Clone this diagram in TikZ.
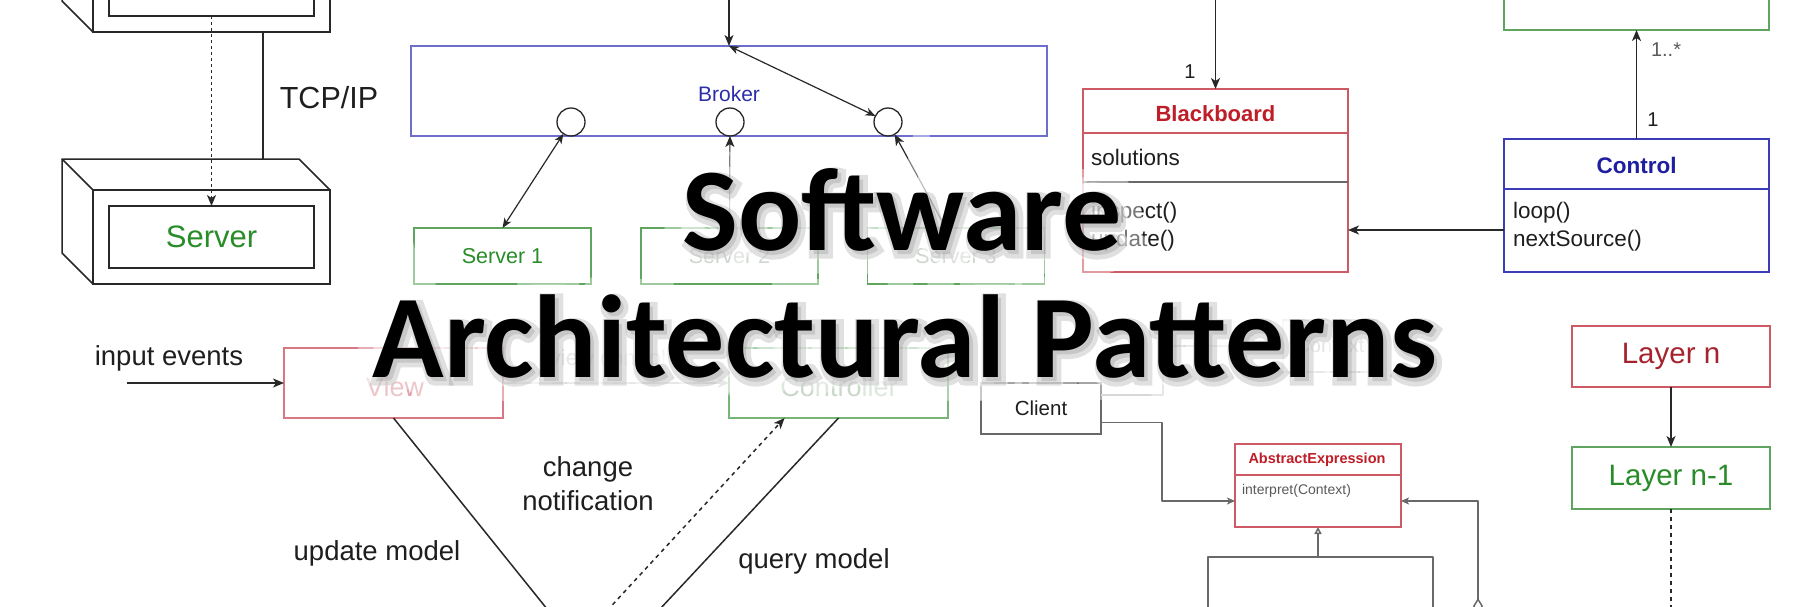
\documentclass[tikz,border=0pt]{standalone}
\usepackage{fontspec}
\setmainfont{Liberation Sans}
\newfontfamily\titlefont{Carlito}
\newfontfamily\glowfont{Carlito}[FakeBold=40]
\newfontfamily\rimfont{Carlito}[FakeBold=16]
\newfontfamily\shadefont{Carlito}[FakeBold=8]
\usetikzlibrary{arrows.meta,calc}

\tikzset{
  box/.style={draw=#1,line width=1.5pt,inner sep=0pt,outer sep=0pt},
  txt/.style={inner sep=0pt,outer sep=0pt,font=\fontsize{#1}{#1}\selectfont},
  wire/.style={draw=drawColor,line width=1.5pt,line join=round},
  tipped/.style={-{Stealth[length=11pt,width=9pt,inset=3pt]}},
  twotipped/.style={{Stealth[length=10pt,width=8pt,inset=3pt]}-{Stealth[length=10pt,width=8pt,inset=3pt]}},
  smalltipped/.style={-{Stealth[length=8pt,width=7pt,inset=2pt]}},
  headline/.style={anchor=base,inner sep=0pt,outer sep=0pt,font=\titlefont\bfseries\fontsize{118}{120}\selectfont},
  glow/.style={anchor=base,inner sep=0pt,outer sep=0pt,font=#1\bfseries\fontsize{118}{120}\selectfont}
}

\begin{document}
\begin{tikzpicture}[x=1pt,y=-1pt]
\definecolor{fillColor}{RGB}{255,255,255}
\path[use as bounding box,fill=fillColor] (0,0) rectangle (1818,606);
\begin{scope}
\path[clip] (0,0) rectangle (1818,606);
\definecolor{drawColor}{RGB}{40,40,40}
\definecolor{labelColor}{RGB}{30,30,30}
\definecolor{greenText}{RGB}{40,140,40}
\definecolor{greenLine}{RGB}{95,165,95}
\definecolor{redLine}{RGB}{205,90,100}
\definecolor{redText}{RGB}{190,30,40}
\definecolor{brokerLine}{RGB}{110,110,205}
\definecolor{brokerText}{RGB}{45,45,170}
\definecolor{blueLine}{RGB}{60,60,185}
\definecolor{blueText}{RGB}{30,30,160}
\definecolor{grayLine}{RGB}{105,105,105}
\definecolor{grayText}{RGB}{90,90,90}
\definecolor{faintLine}{RGB}{190,190,190}
\definecolor{faintText}{RGB}{175,185,175}

% client / server nodes
\node[box=drawColor,minimum width=237,minimum height=94] (clientFace) at (211.5,-15) {};
\node[box=drawColor,minimum width=205,minimum height=62] (clientInner) at (211.5,-15) {};
\path[wire] (clientFace.north west) -- ++(-31,-31) -- ++(237,0) -- (clientFace.north east);
\path[wire] (clientFace.north west) ++(-31,-31) -- ++(0,94) -- (clientFace.south west);

\node[box=drawColor,minimum width=237,minimum height=94] (serverFace) at (211.5,237) {};
\node[box=drawColor,txt=31,minimum width=205,minimum height=62,text=greenText] (serverInner) at (211.5,237) {Server};
\path[wire] (serverFace.north west) -- ++(-31,-31) -- ++(237,0) -- (serverFace.north east);
\path[wire] (serverFace.north west) ++(-31,-31) coordinate (serverBack) -- ++(0,94) -- (serverFace.south west);

\coordinate (tcpLink) at (263,0);
\path[wire] (tcpLink |- clientFace.south) -- (tcpLink |- serverBack);
\node[txt=30.5,text=labelColor] (tcpLabel) at (329,98) {TCP/IP};
\path[wire,dash pattern=on 3pt off 3pt,tipped] (clientInner.south) -- (serverInner.north);

% broker
\node[box=brokerLine,minimum width=636,minimum height=90] (broker) at (729,91) {};
\node[txt=21,text=brokerText] (brokerName) at (729,94) {Broker};
\foreach \i/\x in {1/571,2/730,3/888}
  \node[circle,draw=drawColor,line width=1.3pt,minimum size=28,inner sep=0pt,outer sep=0pt] (port\i) at (\x,122) {};
\coordinate (brokerIn) at (729,-10);
\path[wire,tipped] (brokerIn) -- (broker.north);
\path[wire,twotipped,line width=1.2pt] (broker.north) -- (port3);

\node[box=greenLine,txt=21.5,minimum width=177,minimum height=56,text=greenText] (server1) at (502.5,256) {Server 1};
\node[box=greenLine,txt=21.5,minimum width=177,minimum height=56,text=faintText] (server2) at (729.5,256) {Server 2};
\node[box=greenLine,txt=21.5,minimum width=177,minimum height=56,text=faintText] (server3) at (956,256) {Server 3};
\path[wire,twotipped,line width=1.2pt] (server1.north) -- (port1);
\path[wire,tipped,line width=1.2pt] (server2.north) -- (port2);
\path[wire,tipped,line width=1.2pt] (server3.110) -- (port3);

% blackboard
\node[box=redLine,minimum width=265,minimum height=183] (blackboard) at (1215.5,180.5) {};
\coordinate (bbRowA) at (0,133);
\coordinate (bbRowB) at (0,182);
\path[draw=redLine,line width=1.5pt] (blackboard.west |- bbRowA) -- (blackboard.east |- bbRowA);
\path[draw=grayLine,line width=1.5pt] (blackboard.west |- bbRowB) -- (blackboard.east |- bbRowB);
\node[txt=22,text=redText] (bbName) at (1215.5,114) {\bfseries Blackboard};
\node[txt=22.5,text=labelColor,anchor=west] (bbAttr) at (1091,157) {solutions};
\node[txt=22.5,text=labelColor,anchor=west] (bbOpA) at (1091,213) {inspect()};
\node[txt=22.5,text=labelColor,anchor=west] (bbOpB) at (1091,241) {update()};
\coordinate (bbIn) at (1215.5,-10);
\path[wire,tipped] (bbIn) -- (blackboard.north);
\node[txt=20,text=labelColor] (bbMult) at (1190,72) {1};

% control
\node[box=greenLine,minimum width=265,minimum height=70] (sources) at (1636.5,-5) {};
\node[box=blueLine,minimum width=265,minimum height=133] (control) at (1636.5,205.5) {};
\coordinate (ctlRow) at (0,189);
\path[draw=blueLine,line width=1.5pt] (control.west |- ctlRow) -- (control.east |- ctlRow);
\node[txt=22.5,text=blueText] (ctlName) at (1636.5,165) {\bfseries Control};
\node[txt=22.5,text=labelColor,anchor=west] (ctlOpA) at (1513,213) {loop()};
\node[txt=22.5,text=labelColor,anchor=west] (ctlOpB) at (1513,241) {nextSource()};
\path[wire,tipped] (control.north) -- (sources.south);
\node[txt=20,text=labelColor] (ctlMultA) at (1653,120) {1};
\node[txt=20,text=grayText,anchor=west] (ctlMultB) at (1651,50) {1..*};
\coordinate (ctlLink) at (0,230);
\path[wire,tipped] (control.west |- ctlLink) -- (blackboard.east |- ctlLink);

% model view controller
\definecolor{viewLine}{RGB}{215,120,130}
\definecolor{viewText}{RGB}{225,160,168}
\definecolor{ctrlLine}{RGB}{120,180,120}
\definecolor{ctrlText}{RGB}{165,190,165}
\node[txt=27.5,text=labelColor] (inputLabel) at (169,358) {input events};
\coordinate (inputStart) at (127,383);
\node[box=viewLine,minimum width=219,minimum height=70] (view) at (393.5,383) {};
\node[txt=27,text=viewText] (viewName) at (395,387) {View};
\node[box=ctrlLine,minimum width=219,minimum height=70] (controller) at (838.5,383) {};
\node[txt=27,text=ctrlText] (ctrlName) at (839,387) {Controller};
\path[wire,tipped] (inputStart) -- (view.west);
\path[wire,tipped,draw=faintLine] (view.east) -- (controller.west);
\node[txt=22,text=faintText] (viewCtrl) at (608,358) {view control};

\coordinate (updateEnd) at (572,640);
\coordinate (notifyEnd) at (580,640);
\coordinate (queryEnd) at (631,640);
\path[wire] (view.south) -- (updateEnd);
\path[wire,dash pattern=on 4pt off 4pt,tipped] (notifyEnd) -- (controller.213);
\path[wire] (queryEnd) -- (controller.south);
\node[align=center,inner sep=0pt,outer sep=0pt,font=\fontsize{27.5}{34}\selectfont,text=labelColor] (notifyLabel) at (588,484) {change\\notification};
\node[txt=27.5,text=labelColor] (updateLabel) at (377,553) {update model};
\node[txt=27.5,text=labelColor] (queryLabel) at (814,561) {query model};

% interpreter
\node[box=grayLine,txt=20.5,minimum width=120,minimum height=51,text=labelColor] (client) at (1041,408.5) {Client};
\node[box=faintLine,txt=20,minimum width=94,minimum height=52,text=faintText] (context) at (1330,346) {Context};
\coordinate (ctxBend) at (1163,395);
\path[wire,draw=faintLine,smalltipped] (client.east |- ctxBend) -- (ctxBend) |- (context.west);

\node[box=redLine,minimum width=166,minimum height=83] (expr) at (1318,485.5) {};
\coordinate (exprRow) at (0,475);
\path[draw=redLine,line width=1.5pt] (expr.west |- exprRow) -- (expr.east |- exprRow);
\node[txt=14.5,text=redText] (exprName) at (1317,460) {\bfseries AbstractExpression};
\node[txt=14,text=grayText,anchor=west] (exprOp) at (1242,491) {interpret(Context)};
\coordinate (exprLink) at (1162,501);
\path[wire,draw=grayLine,smalltipped] (client.-13) -| (exprLink) -- (expr.west |- exprLink);
\coordinate (aggStart) at (1478,614);
\path[wire,draw=grayLine,{Diamond[open,length=16pt,width=10pt]}-{Stealth[length=8pt,width=7pt,inset=2pt]}] (aggStart) |- (expr.east |- exprLink);
\path (expr.south) ++(0,30) coordinate (treeJoin);
\path[wire,draw=grayLine,-{Triangle[open,length=7pt,width=7pt]}] (treeJoin) -- (expr.south);
\coordinate (leafA) at (1208,620);
\coordinate (leafB) at (1433,620);
\path[wire,draw=grayLine] (leafA) |- (treeJoin) -| (leafB);

% layers
\definecolor{layerRed}{RGB}{165,35,45}
\node[box=redLine,txt=29.5,minimum width=198,minimum height=61,text=layerRed] (layerTop) at (1671,356.5) {Layer n};
\node[box=greenLine,txt=29.5,minimum width=198,minimum height=62,text=greenText] (layerNext) at (1671,478) {Layer n-1};
\path[wire,tipped] (layerTop.south) -- (layerNext.north);
\coordinate (layerEnd) at (1671,620);
\path[wire,dash pattern=on 4pt off 4pt] (layerNext.south) -- (layerEnd);
\end{scope}

\begin{scope}
\path[clip] (0,0) rectangle (1818,606);
\node[glow=\glowfont,text=white,opacity=0.4] (glowTop) at (902,250) {Software};
\node[glow=\glowfont,text=white,opacity=0.4] (glowBottom) at (905,377) {Architectural Patterns};
\node[glow=\rimfont,text=white,opacity=0.5] (rimTop) at (902,250) {Software};
\node[glow=\rimfont,text=white,opacity=0.5] (rimBottom) at (905,377) {Architectural Patterns};
\node[glow=\shadefont,text=black!60,opacity=0.2] (shadeTop) at (905,254) {Software};
\node[glow=\shadefont,text=black!60,opacity=0.2] (shadeBottom) at (908,381) {Architectural Patterns};
\node[headline,text=black] (titleTop) at (902,250) {Software};
\node[headline,text=black] (titleBottom) at (905,377) {Architectural Patterns};
\end{scope}
\end{tikzpicture}
\end{document}
